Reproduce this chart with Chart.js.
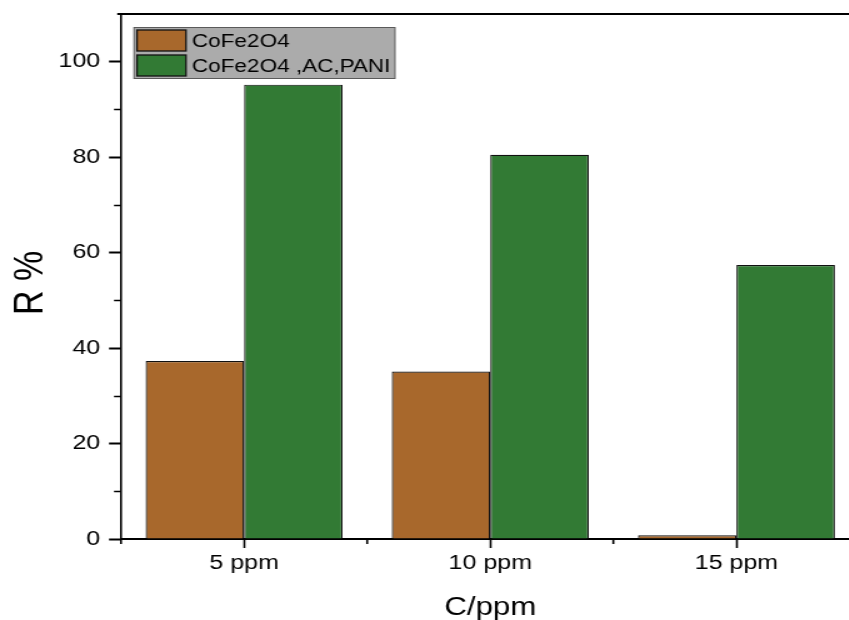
<!DOCTYPE html>
<html>
<head>
<meta charset="utf-8">
<title>R % vs C/ppm</title>
<script src="https://cdn.jsdelivr.net/npm/chart.js@4.4.0/dist/chart.umd.min.js"></script>
<style>
html, body { margin: 0; padding: 0; background: #fff; overflow: hidden; }
/* the figure is drawn narrow and widened on screen */
#wrap { width: 700px; height: 620px; transform: scaleX(1.25); transform-origin: 0 0; }
</style>
</head>
<body>
<div id="wrap"><canvas id="mycanvas" width="700" height="620"></canvas></div>
<script>
var categories = ["5 ppm", "10 ppm", "15 ppm"];
var cofe2o4 = [37.3, 35.1, 0.8];
var cofe2o4AcPani = [95.2, 80.5, 57.4];
var yTicks = [0, 20, 40, 60, 80, 100];
var yMinorTicks = [10, 30, 50, 70, 90];

var FONT = "'Liberation Sans', Arial, sans-serif";

// minor ticks, top frame, titles and the boxed legend
var extras = {
	id: "extras",
	afterDraw: function(chart) {
		var ctx = chart.ctx;
		var area = chart.chartArea;
		var xs = chart.scales.x;
		var ys = chart.scales.y;

		ctx.save();
		ctx.strokeStyle = "#000";

		// y minor ticks
		ctx.lineWidth = 1.6;
		ctx.beginPath();
		yMinorTicks.forEach(function(v) {
			var y = Math.round(ys.getPixelForValue(v)) + 0.5;
			ctx.moveTo(area.left - 5.6, y);
			ctx.lineTo(area.left, y);
		});
		ctx.stroke();

		// x minor ticks between categories
		ctx.beginPath();
		for (var i = 0; i <= categories.length; i++) {
			var x = xs.getPixelForValue(i - 0.5);
			ctx.moveTo(x, area.bottom);
			ctx.lineTo(x, area.bottom + 5);
		}
		ctx.stroke();

		// top frame line
		ctx.lineWidth = 2;
		ctx.beginPath();
		ctx.moveTo(area.left - 3, area.top);
		ctx.lineTo(chart.width, area.top);
		ctx.stroke();

		// axis titles
		ctx.fillStyle = "#000";
		ctx.textAlign = "center";
		ctx.textBaseline = "alphabetic";
		ctx.font = "25px " + FONT;
		ctx.fillText("C/ppm", (area.left + area.right) / 2, 615);

		ctx.save();
		ctx.translate(34.4, 283);
		ctx.rotate(-Math.PI / 2);
		ctx.font = "34px " + FONT;
		ctx.fillText("R %", 0, 0);
		ctx.restore();

		// legend box
		ctx.fillStyle = "#ababab";
		ctx.fillRect(107.2, 27, 208.8, 51);
		ctx.strokeStyle = "#5a5a5a";
		ctx.lineWidth = 1;
		ctx.strokeRect(107.2, 27.5, 208.8, 51);

		ctx.font = "18px " + FONT;
		ctx.textAlign = "left";
		chart.data.datasets.forEach(function(ds, k) {
			var top = 30 + k * 25;
			ctx.fillStyle = ds.backgroundColor;
			ctx.fillRect(109.6, top, 39.2, 21);
			ctx.strokeStyle = "#111";
			ctx.lineWidth = 1.3;
			ctx.strokeRect(109.6, top, 39.2, 21);
			ctx.fillStyle = "#000";
			ctx.fillText(ds.label, 153.6, top + 17);
		});

		ctx.restore();
	}
};

var ctx = document.getElementById("mycanvas");

var chartdata = {
	labels: categories,
	datasets: [
		{
			label: "CoFe2O4",
			backgroundColor: "#a8682c",
			borderColor: "#111",
			borderWidth: 1.2,
			barPercentage: 1,
			categoryPercentage: 0.8,
			data: cofe2o4
		},
		{
			label: "CoFe2O4 ,AC,PANI",
			backgroundColor: "#327a34",
			borderColor: "#111",
			borderWidth: 1.2,
			barPercentage: 1,
			categoryPercentage: 0.8,
			data: cofe2o4AcPani
		}
	]
};

var BarGraph = new Chart(ctx, {
	type: "bar",
	data: chartdata,
	plugins: [extras],
	options: {
		responsive: false,
		animation: false,
		devicePixelRatio: 1,
		layout: { padding: { top: 14, right: 12.4, left: 0, bottom: 0 } },
		plugins: {
			legend: { display: false },
			tooltip: { enabled: false }
		},
		scales: {
			x: {
				offset: true,
				afterFit: function(scale) {
					scale.height = 81;
					scale.paddingLeft = 0;
					scale.paddingRight = 0;
				},
				grid: {
					offset: false,
					drawOnChartArea: false,
					drawTicks: true,
					tickLength: 9,
					tickWidth: 1.6,
					tickColor: "#000"
				},
				border: { display: true, color: "#000", width: 2 },
				ticks: {
					color: "#000",
					padding: 3,
					maxRotation: 0,
					font: { family: FONT, size: 20 }
				}
			},
			y: {
				min: 0,
				max: 110,
				afterBuildTicks: function(scale) {
					scale.ticks = yTicks.map(function(v) { return { value: v }; });
				},
				afterFit: function(scale) {
					scale.width = 96.8;
					scale.paddingTop = 0;
					scale.paddingBottom = 0;
				},
				grid: {
					drawOnChartArea: false,
					drawTicks: true,
					tickLength: 9.6,
					tickWidth: 2,
					tickColor: "#000"
				},
				border: { display: true, color: "#000", width: 1.6 },
				ticks: {
					color: "#000",
					padding: 7,
					font: { family: FONT, size: 20 }
				}
			}
		}
	}
});
</script>
</body>
</html>
